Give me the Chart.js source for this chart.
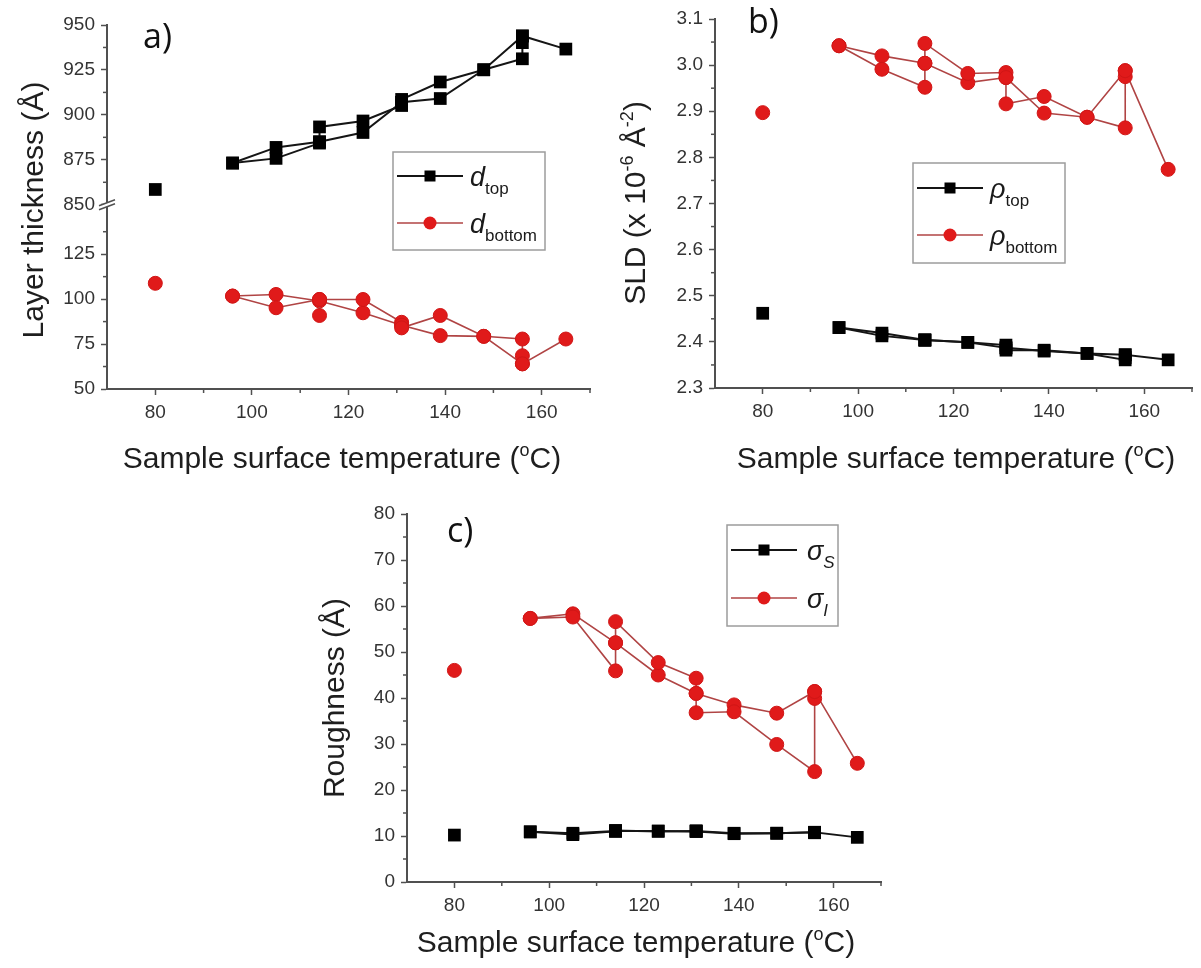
<!DOCTYPE html>
<html lang="en">
<head>
<meta charset="utf-8">
<title>Layer thickness, SLD and roughness vs. sample surface temperature</title>
<script src="https://cdn.jsdelivr.net/npm/chart.js@4.4.1/dist/chart.umd.min.js"></script>
<style>
  html, body { margin: 0; padding: 0; background: #ffffff; }
  body { position: relative; width: 1201px; height: 968px; overflow: hidden; }
  canvas { position: absolute; display: block; }
</style>
</head>
<body>
<canvas id="panelA" width="600" height="480" style="left:0px;top:0px;width:600px;height:480px"></canvas>
<canvas id="panelB" width="601" height="480" style="left:600px;top:0px;width:601px;height:480px"></canvas>
<canvas id="panelC" width="600" height="488" style="left:290px;top:480px;width:600px;height:488px"></canvas>
<script>
// ---- Sample surface temperatures (°C) ----
// The 80 °C point stands alone; run 1 repeats a temperature where several scans were taken.
const tempRef  = [80];
const tempRun1 = [96, 105, 114, 114, 114, 123, 131, 131, 131, 139, 148, 156, 156, 156, 165];
const tempRun2 = [96, 105, 114, 123, 131, 139, 148, 156];

// ---- a) layer thickness (Å) ----
const dTopRef  = [858.5];
const dTopRun1 = [873.2, 875.8, 884.3, 885.0, 893.3, 896.6, 905.2, 907.0, 908.6, 918.3, 925.1, 931.2, 940.2, 943.9, 936.6];
const dTopRun2 = [873.2, 881.9, 885.0, 890.2, 907.0, 909.1, 925.1, 943.9];
const dBotRef  = [108.8];
const dBotRun1 = [101.7, 95.2, 99.8, 90.9, 99.8, 99.8, 87.1, 85.5, 84.0, 90.9, 79.3, 77.8, 68.5, 64.0, 77.8];
const dBotRun2 = [101.7, 102.6, 99.0, 92.4, 85.5, 79.7, 79.3, 64.0];

// ---- b) scattering length density (x 10^-6 Å^-2) ----
const rhoTopRef  = [2.462];
const rhoTopRun1 = [2.431, 2.413, 2.404, 2.404, 2.404, 2.399, 2.393, 2.387, 2.382, 2.382, 2.375, 2.361, 2.366, 2.372, 2.361];
const rhoTopRun2 = [2.431, 2.419, 2.404, 2.399, 2.387, 2.380, 2.375, 2.372];
const rhoBotRef  = [2.897];
const rhoBotRun1 = [3.042, 2.991, 2.952, 3.004, 3.047, 2.982, 2.984, 2.973, 2.916, 2.932, 2.887, 2.864, 2.975, 2.988, 2.774];
const rhoBotRun2 = [3.042, 3.020, 3.004, 2.962, 2.973, 2.896, 2.887, 2.988];

// ---- c) roughness (Å) ----
const sigSRef  = [10.2];
const sigSRun1 = [10.9, 10.3, 11.0, 11.1, 11.2, 11.0, 11.1, 11.0, 11.1, 10.6, 10.6, 10.8, 10.7, 10.8, 9.7];
const sigSRun2 = [10.9, 10.6, 11.1, 11.1, 11.0, 10.5, 10.6, 10.8];
const sigIRef  = [46.0];
const sigIRun1 = [57.3, 57.6, 45.9, 52.0, 56.6, 47.7, 44.3, 41.0, 36.8, 37.0, 29.9, 24.0, 39.9, 41.4, 25.8];
const sigIRun2 = [57.3, 58.3, 52.0, 45.0, 41.0, 38.5, 36.7, 41.4];

// ---- tick labels and minor tick positions ----
const tempTicks     = [80, 100, 120, 140, 160];
const tempMinor     = [90, 110, 130, 150, 170];
const thickTopTicks = [850, 875, 900, 925, 950];
const thickTopMinor = [862.5, 887.5, 912.5, 937.5];
const thickBotTicks = [50, 75, 100, 125];
const thickBotMinor = [62.5, 87.5, 112.5, 137.5];
const sldTicks      = [2.3, 2.4, 2.5, 2.6, 2.7, 2.8, 2.9, 3.0, 3.1];
const sldMinor      = [2.35, 2.45, 2.55, 2.65, 2.75, 2.85, 2.95, 3.05];
const roughTicks    = [0, 10, 20, 30, 40, 50, 60, 70, 80];
const roughMinor    = [5, 15, 25, 35, 45, 55, 65, 75];

// ---- styling ----
const FONT = '"Liberation Sans", Arial, Helvetica, sans-serif';
const AXIS = '#505050';
const TICK_TEXT = '#333333';
const TITLE_TEXT = '#1e1e1e';
const LINE_BLACK = '#151515';
const MARK_BLACK = '#000000';
const LINE_RED = '#b04444';
const MARK_RED = '#e01a1a';
const MARK_RED_EDGE = '#d01616';
const Y_AXIS_W = 60;
const X_AXIS_H = 40;

function pairs(xs, ys) { return xs.map((x, i) => ({ x: x, y: ys[i] })); }

function seriesSets(label, kind, yAxisID, ref, run1, run2) {
  const base = kind === 'square' ? {
    borderColor: LINE_BLACK, borderWidth: 2, pointStyle: 'rect', pointRadius: 9,
    pointBackgroundColor: MARK_BLACK, pointBorderColor: MARK_BLACK, pointBorderWidth: 0
  } : {
    borderColor: LINE_RED, borderWidth: 1.6, pointStyle: 'circle', pointRadius: 7,
    pointBackgroundColor: MARK_RED, pointBorderColor: MARK_RED_EDGE, pointBorderWidth: 1
  };
  const common = Object.assign({ yAxisID: yAxisID, xAxisID: 'x', clip: false, tension: 0, pointHoverRadius: 0 }, base);
  return [
    Object.assign({ label: label, data: pairs(tempRef, ref), showLine: false }, common),
    Object.assign({ label: label, data: pairs(tempRun1, run1), showLine: true }, common),
    Object.assign({ label: label, data: pairs(tempRun2, run2), showLine: true }, common)
  ];
}

function tempScale() {
  return {
    type: 'linear', position: 'bottom', min: 70, max: 170,
    afterBuildTicks: s => { s.ticks = tempTicks.map(v => ({ value: v })); },
    afterFit: s => { s.height = X_AXIS_H; },
    border: { display: true, color: AXIS, width: 2 },
    grid: { display: true, drawOnChartArea: false, drawTicks: true, tickLength: 6, tickWidth: 1.5, tickColor: AXIS },
    ticks: { color: TICK_TEXT, font: { family: FONT, size: 19 }, padding: 6, maxRotation: 0, autoSkip: false }
  };
}

function valueScale(min, max, tickValues, digits, extra) {
  return Object.assign({
    type: 'linear', position: 'left', min: min, max: max,
    afterBuildTicks: s => { s.ticks = tickValues.map(v => ({ value: v })); },
    afterFit: s => { s.width = Y_AXIS_W; },
    border: { display: true, color: AXIS, width: 2 },
    grid: { display: true, drawOnChartArea: false, drawTicks: true, tickLength: 6, tickWidth: 1.5, tickColor: AXIS },
    ticks: { color: TICK_TEXT, font: { family: FONT, size: 19 }, padding: 6, autoSkip: false,
             callback: v => Number(v).toFixed(digits) }
  }, extra || {});
}

// ---- text with super/subscripts ----
function fontOf(p, size) {
  return (p.italic ? 'italic ' : '') + (p.size || size) + 'px ' + FONT;
}
function drawRich(ctx, parts, x, baseline, size, opts) {
  opts = opts || {};
  ctx.save();
  ctx.translate(x, baseline);
  if (opts.rotate) ctx.rotate(opts.rotate);
  ctx.textAlign = 'left';
  ctx.textBaseline = 'alphabetic';
  ctx.fillStyle = opts.color || TITLE_TEXT;
  let total = 0;
  const widths = parts.map(p => { ctx.font = fontOf(p, size); const w = ctx.measureText(p.t).width; total += w; return w; });
  let cx = opts.align === 'left' ? 0 : -total / 2;
  parts.forEach((p, i) => {
    ctx.font = fontOf(p, size);
    ctx.fillText(p.t, cx, p.dy || 0);
    cx += widths[i];
  });
  ctx.restore();
}

const X_TITLE = [{ t: 'Sample surface temperature (' }, { t: 'o', size: 18, dy: -12 }, { t: 'C)' }];

// Per-panel decorations: axis titles, panel letter, minor ticks, axis break, legend box
const decorations = {
  panelA: {
    minor: [{ scale: 'x', values: tempMinor }, { scale: 'yTop', values: thickTopMinor }, { scale: 'yBot', values: thickBotMinor }],
    axisBreak: 'yTop',
    letter: { text: 'a)', x: 143, y: 48 },
    xTitle: { parts: X_TITLE, x: 342, y: 457 },
    yTitle: { parts: [{ t: 'Layer thickness (Å)' }], x: 32, y: 210 },
    legend: { x: 393, y: 152, w: 152, h: 98, textX: 77, rows: [
      { y: 176, marker: 'square', sym: 'd', sub: 'top' },
      { y: 223, marker: 'circle', sym: 'd', sub: 'bottom' }
    ] }
  },
  panelB: {
    minor: [{ scale: 'x', values: tempMinor }, { scale: 'y', values: sldMinor }],
    letter: { text: 'b)', x: 148, y: 33 },
    xTitle: { parts: X_TITLE, x: 356, y: 457 },
    yTitle: { parts: [{ t: 'SLD (x 10' }, { t: '-6', size: 18, dy: -12 }, { t: ' Å' }, { t: '-2', size: 18, dy: -12 }, { t: ')' }], x: 34, y: 203 },
    legend: { x: 313, y: 163, w: 152, h: 100, textX: 77, rows: [
      { y: 188, marker: 'square', sym: 'ρ', sub: 'top' },
      { y: 235, marker: 'circle', sym: 'ρ', sub: 'bottom' }
    ] }
  },
  panelC: {
    minor: [{ scale: 'x', values: tempMinor }, { scale: 'y', values: roughMinor }],
    letter: { text: 'c)', x: 157, y: 62 },
    xTitle: { parts: X_TITLE, x: 346, y: 461 },
    yTitle: { parts: [{ t: 'Roughness (Å)' }], x: 43, y: 218 },
    legend: { x: 437, y: 45, w: 111, h: 101, textX: 80, rows: [
      { y: 70, marker: 'square', sym: 'σ', sub: 'S', subItalic: true },
      { y: 118, marker: 'circle', sym: 'σ', sub: 'I', subItalic: true }
    ] }
  }
};

const panelDeco = {
  id: 'panelDeco',
  afterDraw(chart) {
    const d = decorations[chart.canvas.id];
    if (!d) return;
    const ctx = chart.ctx;
    const TITLE_SIZE = 30;

    // minor ticks, half length, pointing outward
    ctx.save();
    ctx.strokeStyle = AXIS;
    ctx.lineWidth = 1.5;
    d.minor.forEach(m => {
      const s = chart.scales[m.scale];
      m.values.forEach(v => {
        const p = s.getPixelForValue(v);
        ctx.beginPath();
        if (s.isHorizontal()) { ctx.moveTo(p, s.top); ctx.lineTo(p, s.top + 4); }
        else { ctx.moveTo(s.right, p); ctx.lineTo(s.right - 4, p); }
        ctx.stroke();
      });
    });
    ctx.restore();

    // broken-axis mark between the two stacked value ranges
    if (d.axisBreak) {
      const s = chart.scales[d.axisBreak];
      const x = s.right, y = s.bottom;
      ctx.save();
      ctx.fillStyle = '#ffffff';
      ctx.beginPath();
      ctx.moveTo(x - 8, y + 1); ctx.lineTo(x + 8, y - 5); ctx.lineTo(x + 8, y - 1); ctx.lineTo(x - 8, y + 5);
      ctx.closePath(); ctx.fill();
      ctx.strokeStyle = AXIS;
      ctx.lineWidth = 1.5;
      ctx.beginPath();
      ctx.moveTo(x - 8, y + 1); ctx.lineTo(x + 8, y - 5);
      ctx.moveTo(x - 8, y + 5); ctx.lineTo(x + 8, y - 1);
      ctx.stroke();
      ctx.restore();
    }

    // axis titles (x and y given as text centres)
    drawRich(ctx, d.xTitle.parts, d.xTitle.x, d.xTitle.y + TITLE_SIZE * 0.36, TITLE_SIZE);
    ctx.save();
    ctx.translate(d.yTitle.x, d.yTitle.y);
    ctx.rotate(-Math.PI / 2);
    drawRich(ctx, d.yTitle.parts, 0, TITLE_SIZE * 0.36, TITLE_SIZE);
    ctx.restore();

    // panel letter
    ctx.save();
    ctx.fillStyle = '#111111';
    ctx.font = '34px "Open Sans", "Liberation Sans", sans-serif';
    ctx.textAlign = 'left';
    ctx.textBaseline = 'alphabetic';
    ctx.fillText(d.letter.text, d.letter.x, d.letter.y);
    ctx.restore();

    // legend box
    const L = d.legend;
    ctx.save();
    ctx.fillStyle = '#ffffff';
    ctx.fillRect(L.x, L.y, L.w, L.h);
    ctx.strokeStyle = '#9c9c9c';
    ctx.lineWidth = 1.5;
    ctx.strokeRect(L.x, L.y, L.w, L.h);
    L.rows.forEach(r => {
      const square = r.marker === 'square';
      ctx.strokeStyle = square ? LINE_BLACK : LINE_RED;
      ctx.lineWidth = square ? 2 : 1.6;
      ctx.beginPath();
      ctx.moveTo(L.x + 4, r.y); ctx.lineTo(L.x + 70, r.y);
      ctx.stroke();
      const mx = L.x + 37;
      if (square) {
        ctx.fillStyle = MARK_BLACK;
        ctx.fillRect(mx - 5.5, r.y - 5.5, 11, 11);
      } else {
        ctx.fillStyle = MARK_RED;
        ctx.beginPath(); ctx.arc(mx, r.y, 6.5, 0, Math.PI * 2); ctx.fill();
      }
      drawRich(ctx, [
        { t: r.sym, size: 27, italic: true },
        { t: r.sub, size: 17, italic: !!r.subItalic, dy: 8 }
      ], L.x + L.textX, r.y + 10, 27, { align: 'left', color: '#1a1a1a' });
    });
    ctx.restore();
  }
};

function baseOptions(pad, scales) {
  return {
    responsive: false,
    animation: false,
    devicePixelRatio: 1,
    events: [],
    layout: { padding: pad },
    scales: scales,
    plugins: { legend: { display: false }, tooltip: { enabled: false }, title: { display: false } }
  };
}

// a) layer thickness with a broken value axis (two stacked ranges; the later-listed range sits on top)
new Chart(document.getElementById('panelA'), {
  type: 'scatter',
  data: { datasets: [].concat(
    seriesSets('d top', 'square', 'yTop', dTopRef, dTopRun1, dTopRun2),
    seriesSets('d bottom', 'circle', 'yBot', dBotRef, dBotRun1, dBotRun2)
  ) },
  options: baseOptions({ top: 25, right: 10, left: 107 - Y_AXIS_W, bottom: 480 - 389 - X_AXIS_H }, {
    x: tempScale(),
    yBot: valueScale(50, 152.5, thickBotTicks, 0, { stack: 'thickness', stackWeight: 102.5 }),
    yTop: valueScale(850, 950, thickTopTicks, 0, { stack: 'thickness', stackWeight: 100 })
  }),
  plugins: [panelDeco]
});

// b) scattering length density
new Chart(document.getElementById('panelB'), {
  type: 'scatter',
  data: { datasets: [].concat(
    seriesSets('rho top', 'square', 'y', rhoTopRef, rhoTopRun1, rhoTopRun2),
    seriesSets('rho bottom', 'circle', 'y', rhoBotRef, rhoBotRun1, rhoBotRun2)
  ) },
  options: baseOptions({ top: 19, right: 1, left: 115 - Y_AXIS_W, bottom: 480 - 388 - X_AXIS_H }, {
    x: tempScale(),
    y: valueScale(2.3, 3.1, sldTicks, 1)
  }),
  plugins: [panelDeco]
});

// c) roughness
new Chart(document.getElementById('panelC'), {
  type: 'scatter',
  data: { datasets: [].concat(
    seriesSets('sigma S', 'square', 'y', sigSRef, sigSRun1, sigSRun2),
    seriesSets('sigma I', 'circle', 'y', sigIRef, sigIRun1, sigIRun2)
  ) },
  options: baseOptions({ top: 34, right: 4, left: 117 - Y_AXIS_W, bottom: 488 - 402 - X_AXIS_H }, {
    x: tempScale(),
    y: valueScale(0, 80, roughTicks, 0)
  }),
  plugins: [panelDeco]
});
</script>
</body>
</html>
